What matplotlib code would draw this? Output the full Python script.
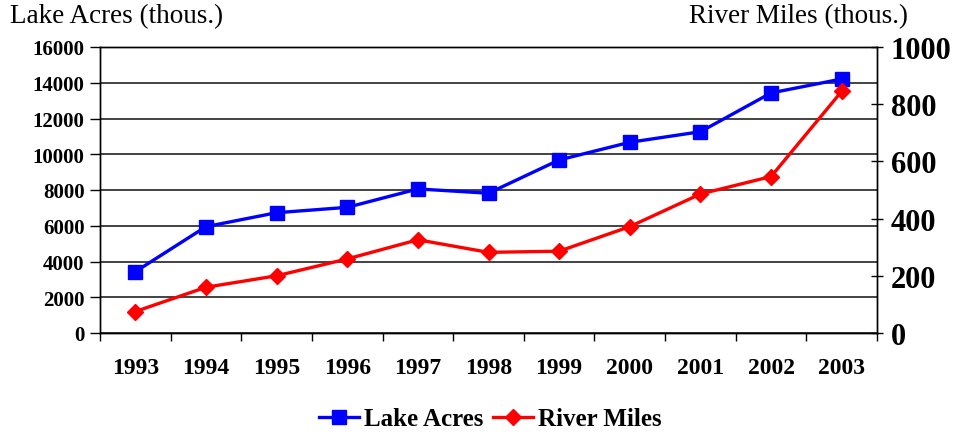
import matplotlib.pyplot as plt
from matplotlib.ticker import FixedLocator

years = ["1993", "1994", "1995", "1996", "1997", "1998",
         "1999", "2000", "2001", "2002", "2003"]
lake_acres = [3430, 5950, 6730, 7030, 8060, 7820, 9680, 10670, 11260, 13430, 14210]
river_miles = [75, 160, 200, 259, 326, 282, 286, 372, 486, 547, 845]

plt.rcParams["font.family"] = ["Liberation Serif", "DejaVu Serif"]

fig = plt.figure(figsize=(9.67, 4.35), dpi=100)
ax = fig.add_axes([100 / 967, 1 - 334 / 435, 777 / 967, 286 / 435])
ax2 = ax.twinx()

x = list(range(len(years)))

line1, = ax.plot(x, lake_acres, color="#0000ff", linewidth=2.4,
                 marker="s", markersize=9.5, label="Lake Acres", zorder=3)
line2, = ax2.plot(x, river_miles, color="#ff0000", linewidth=2.4,
                  marker="D", markersize=8, label="River Miles", zorder=3)

ax.set_xlim(-0.5, len(years) - 0.5)
ax.set_ylim(0, 16000)
ax2.set_ylim(0, 1000)

ax.set_yticks(range(0, 16001, 2000))
ax2.set_yticks(range(0, 1001, 200))
ax.yaxis.grid(True, color="#222222", linewidth=1.2)
ax.set_axisbelow(True)

ax.set_xticks(x)
ax.set_xticklabels(years, fontsize=17, fontweight="bold")
ax.xaxis.set_minor_locator(FixedLocator([i - 0.5 for i in range(len(years) + 1)]))
ax.tick_params(axis="x", which="major", length=0, pad=17)
ax.tick_params(axis="x", which="minor", length=6, width=1, direction="out")
ax.tick_params(axis="y", length=7, width=1, direction="out", labelsize=15, pad=4)
for lbl in ax.get_yticklabels():
    lbl.set_fontweight("bold")

ax2.tick_params(axis="y", length=8, width=1, direction="inout", labelsize=22, pad=6)
for lbl in ax2.get_yticklabels():
    lbl.set_fontweight("bold")

for a in (ax, ax2):
    for s in a.spines.values():
        s.set_linewidth(1.0)
        s.set_color("black")

fig.text(10 / 967, 1 - 17 / 435, "Lake Acres (thous.)", fontsize=19.5,
         ha="left", va="center")
fig.text(908 / 967, 1 - 17 / 435, "River Miles (thous.)", fontsize=19.5,
         ha="right", va="center")

fig.legend(handles=[line1, line2], loc="center", bbox_to_anchor=(490 / 967, 1 - 420 / 435),
           ncol=2, frameon=False, handlelength=1.6, columnspacing=0.4, handletextpad=0.2,
           prop={"size": 18, "weight": "bold"})

fig.savefig("out.png", dpi=100)
